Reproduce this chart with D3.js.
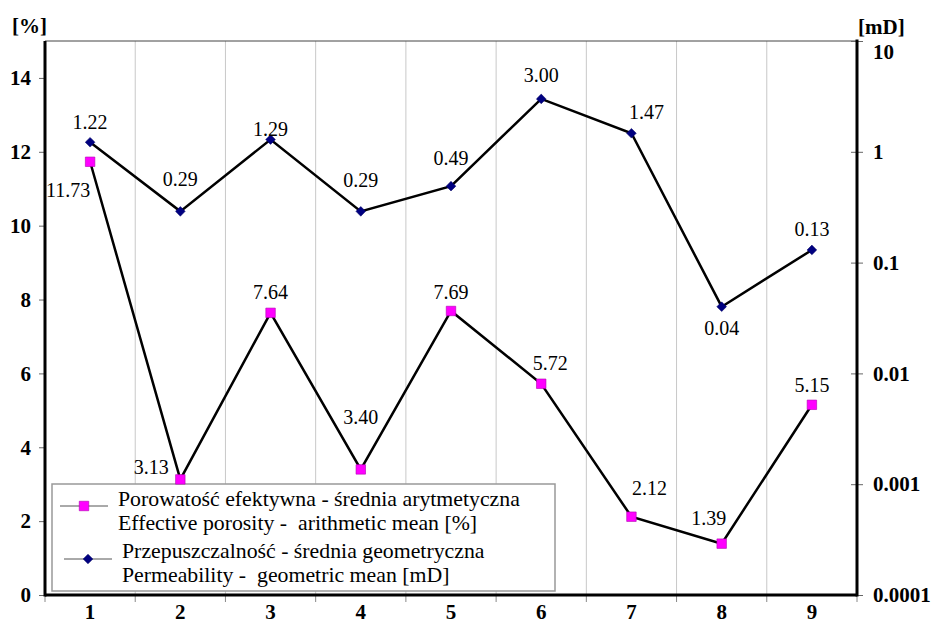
<!DOCTYPE html>
<html>
<head>
<meta charset="utf-8">
<script src="https://cdn.jsdelivr.net/npm/d3@7"></script>
<style>
  body { margin: 0; background: #fff; }
  svg text { font-family: "Liberation Serif", "Times New Roman", serif; }
</style>
</head>
<body>
<div id="chart"></div>
<script>
var categories = ["1", "2", "3", "4", "5", "6", "7", "8", "9"];
var porosity = [11.73, 3.13, 7.64, 3.40, 7.69, 5.72, 2.12, 1.39, 5.15];
var permeability = [1.22, 0.29, 1.29, 0.29, 0.49, 3.00, 1.47, 0.04, 0.13];
var leftTicks = [0, 2, 4, 6, 8, 10, 12, 14];
var rightTicks = [0.0001, 0.001, 0.01, 0.1, 1, 10];
var rightTickLabels = ["0.0001", "0.001", "0.01", "0.1", "1", "10"];
var legendPorosity = ["Porowatość efektywna - średnia arytmetyczna", "Effective porosity -  arithmetic mean [%]"];
var legendPerm = ["Przepuszczalność - średnia geometryczna", "Permeability -  geometric mean [mD]"];

// label placement (offset from marker, baseline)
var porLabelPos = [[-22, 35], [-29, -5], [0, -14], [0, -45], [0, -12], [9, -14], [18, -22], [-13, -19], [0, -13]];
var permLabelPos = [[0, -13], [0, -25], [0, -4], [0, -24], [0, -21], [0, -17], [15, -14], [0, 28], [0, -14]];

var FONT = "Liberation Serif, Times New Roman, serif";
var W = 931, H = 625;
var plotL = 45, plotR = 857, plotT = 41, plotB = 595;

var svg = d3.select("#chart").append("svg")
    .attr("width", W).attr("height", H)
    .attr("font-family", FONT);

var x = d3.scaleBand().domain(categories).range([plotL, plotR]).paddingInner(0).paddingOuter(0);
var yL = d3.scaleLinear().domain([0, 15]).range([plotB, plotT]);
var yR = d3.scaleLog().domain([0.0001, 10]).range([plotB, plotT]);

// vertical gridlines between categories
var bounds = categories.slice(1).map(function(c) { return x(c); });
svg.append("g").selectAll("line").data(bounds).enter().append("line")
    .attr("x1", function(d) { return d; }).attr("x2", function(d) { return d; })
    .attr("y1", plotT).attr("y2", plotB)
    .attr("stroke", "#c8c8c8").attr("stroke-width", 1);

// top border
svg.append("line").attr("x1", plotL).attr("x2", plotR).attr("y1", plotT).attr("y2", plotT)
    .attr("stroke", "#444").attr("stroke-width", 1);

// left axis
var gl = svg.append("g").attr("transform", "translate(" + plotL + ",0)")
    .call(d3.axisLeft(yL).tickValues(leftTicks).tickSize(6).tickPadding(8));
gl.attr("font-family", FONT);
gl.select(".domain").remove();
gl.selectAll(".tick line").attr("stroke", "#666");
gl.selectAll(".tick text").attr("font-size", 21).attr("font-weight", "bold").attr("fill", "#000");

// right axis
var gr = svg.append("g").attr("transform", "translate(" + plotR + ",0)")
    .call(d3.axisRight(yR).tickValues(rightTicks)
        .tickFormat(function(d, i) { return rightTickLabels[i]; })
        .tickSize(6).tickPadding(10));
gr.attr("font-family", FONT);
gr.select(".domain").remove();
gr.selectAll(".tick line").attr("x1", -6).attr("stroke", "#666");
gr.selectAll(".tick text").attr("font-size", 21).attr("font-weight", "bold").attr("fill", "#000")
    .attr("dy", function(d) { return d === 10 ? "0.85em" : "0.32em"; });

// bottom axis
var gb = svg.append("g").attr("transform", "translate(0," + plotB + ")")
    .call(d3.axisBottom(x).tickSize(0).tickPadding(9));
gb.attr("font-family", FONT);
gb.select(".domain").remove();
gb.selectAll(".tick text").attr("font-size", 21).attr("font-weight", "bold").attr("fill", "#000");
var allBounds = [plotL].concat(bounds).concat([plotR]);
svg.append("g").selectAll("line").data(allBounds).enter().append("line")
    .attr("x1", function(d) { return d; }).attr("x2", function(d) { return d; })
    .attr("y1", plotB).attr("y2", plotB + 7)
    .attr("stroke", "#888").attr("stroke-width", 1);

// thick axis lines
svg.append("line").attr("x1", plotL).attr("x2", plotL).attr("y1", plotT).attr("y2", plotB + 1.5)
    .attr("stroke", "#000").attr("stroke-width", 3);
svg.append("line").attr("x1", plotL).attr("x2", plotR).attr("y1", plotB).attr("y2", plotB)
    .attr("stroke", "#000").attr("stroke-width", 3);
svg.append("line").attr("x1", plotR).attr("x2", plotR).attr("y1", plotT - 1.5).attr("y2", plotB + 1.5)
    .attr("stroke", "#000").attr("stroke-width", 3);

// axis units
svg.append("text").attr("x", 12).attr("y", 33).attr("font-size", 21).attr("font-weight", "bold").text("[%]");
svg.append("text").attr("x", 858).attr("y", 34).attr("font-size", 21).attr("font-weight", "bold").text("[mD]");

var cx = function(i) { return x(categories[i]) + x.bandwidth() / 2; };

var diamond = d3.symbol().type(d3.symbolDiamond2).size(60);
var square = d3.symbol().type(d3.symbolSquare).size(90);

// legend (drawn under the series)
var lg = svg.append("g");
lg.append("rect").attr("x", 52).attr("y", 484).attr("width", 503).attr("height", 107)
    .attr("fill", "#fff").attr("stroke", "#999").attr("stroke-width", 1.5);

lg.append("line").attr("x1", 60).attr("x2", 108).attr("y1", 506).attr("y2", 506)
    .attr("stroke", "#555").attr("stroke-width", 1);
lg.append("path").attr("d", square).attr("transform", "translate(84,506)")
    .attr("fill", "#ff00ff").attr("stroke", "#b000b0").attr("stroke-width", 0.6);
lg.append("text").attr("x", 118).attr("y", 506).attr("font-size", 21.8).text(legendPorosity[0]);
lg.append("text").attr("x", 118).attr("y", 530).attr("font-size", 21.8).attr("xml:space", "preserve").text(legendPorosity[1]);

lg.append("line").attr("x1", 64).attr("x2", 112).attr("y1", 559).attr("y2", 559)
    .attr("stroke", "#555").attr("stroke-width", 1);
lg.append("path").attr("d", diamond).attr("transform", "translate(88,559)")
    .attr("fill", "#000080").attr("stroke", "#000060").attr("stroke-width", 0.5);
lg.append("text").attr("x", 122).attr("y", 558).attr("font-size", 21.8).text(legendPerm[0]);
lg.append("text").attr("x", 122).attr("y", 582).attr("font-size", 21.8).attr("xml:space", "preserve").text(legendPerm[1]);

// permeability line
var permLine = d3.line().x(function(d, i) { return cx(i); }).y(function(d) { return yR(d); });
svg.append("path").datum(permeability).attr("d", permLine)
    .attr("fill", "none").attr("stroke", "#000").attr("stroke-width", 2.5);

// porosity line
var porLine = d3.line().x(function(d, i) { return cx(i); }).y(function(d) { return yL(d); });
svg.append("path").datum(porosity).attr("d", porLine)
    .attr("fill", "none").attr("stroke", "#000").attr("stroke-width", 2.5);

// markers
svg.append("g").selectAll("path").data(permeability).enter().append("path")
    .attr("d", diamond)
    .attr("transform", function(d, i) { return "translate(" + cx(i) + "," + yR(d) + ")"; })
    .attr("fill", "#000080").attr("stroke", "#000060").attr("stroke-width", 0.5);

svg.append("g").selectAll("path").data(porosity).enter().append("path")
    .attr("d", square)
    .attr("transform", function(d, i) { return "translate(" + cx(i) + "," + yL(d) + ")"; })
    .attr("fill", "#ff00ff").attr("stroke", "#b000b0").attr("stroke-width", 0.6);

// data labels
svg.append("g").selectAll("text").data(permeability).enter().append("text")
    .attr("x", function(d, i) { return cx(i) + permLabelPos[i][0]; })
    .attr("y", function(d, i) { return yR(d) + permLabelPos[i][1]; })
    .attr("text-anchor", "middle").attr("font-size", 20).attr("fill", "#000")
    .text(function(d) { return d.toFixed(2); });

svg.append("g").selectAll("text").data(porosity).enter().append("text")
    .attr("x", function(d, i) { return cx(i) + porLabelPos[i][0]; })
    .attr("y", function(d, i) { return yL(d) + porLabelPos[i][1]; })
    .attr("text-anchor", "middle").attr("font-size", 20).attr("fill", "#000")
    .text(function(d) { return d.toFixed(2); });
</script>
</body>
</html>
